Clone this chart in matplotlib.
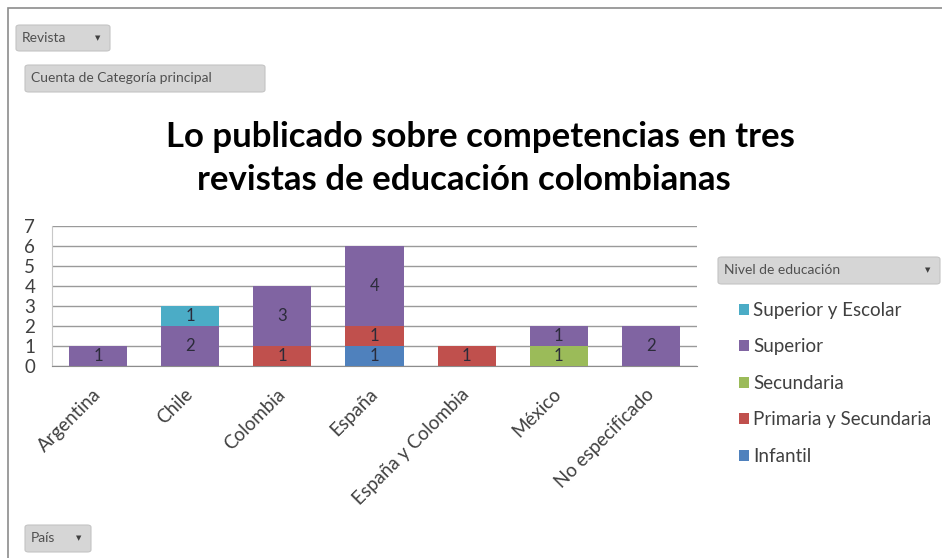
import matplotlib
matplotlib.use("Agg")
import matplotlib.pyplot as plt
from matplotlib.patches import FancyBboxPatch, Rectangle
import matplotlib.transforms as mtransforms
import numpy as np

plt.rcParams['font.family'] = ['Lato', 'DejaVu Sans']

categories = ["Argentina", "Chile", "Colombia", "España", "España y Colombia", "México", "No especificado"]
series_names = ["Infantil", "Primaria y Secundaria", "Secundaria", "Superior", "Superior y Escolar"]
infantil = [0, 0, 0, 1, 0, 0, 0]
primaria_secundaria = [0, 0, 1, 1, 1, 0, 0]
secundaria = [0, 0, 0, 0, 0, 1, 0]
superior = [1, 2, 3, 4, 0, 1, 2]
superior_escolar = [0, 1, 0, 0, 0, 0, 0]
series_values = [infantil, primaria_secundaria, secundaria, superior, superior_escolar]
colors = ["#4F81BD", "#C0504D", "#9BBB59", "#8064A2", "#4BACC6"]
yticks = list(range(0, 8))

W, H = 942, 558
fig = plt.figure(figsize=(W / 100, H / 100), dpi=100)

def fx(x):
    return x / W

def fy(y):
    return 1 - y / H

# outer border
fig.patches.append(Rectangle((fx(8), fy(560)), fx(940), fy(8) - fy(560), transform=fig.transFigure,
                             fill=False, edgecolor="#8c8c8c", linewidth=1.2))

def button(x0, y0, x1, y1, label, arrow=False, fs=10):
    p = FancyBboxPatch((fx(x0), fy(y1)), fx(x1) - fx(x0), fy(y0) - fy(y1),
                       boxstyle="round,pad=0,rounding_size=0.004", transform=fig.transFigure,
                       facecolor="#d6d6d6", edgecolor="#c4c4c4", linewidth=0.8)
    fig.patches.append(p)
    fig.text(fx(x0 + 6), fy((y0 + y1) / 2), label, fontsize=fs, color="#505050",
             ha="left", va="center")
    if arrow:
        fig.text(fx(x1 - 12), fy((y0 + y1) / 2), "▼", fontsize=5, color="#404040",
                 ha="center", va="center", family="DejaVu Sans")

button(16, 25, 110, 51, "Revista", arrow=True)
button(25, 65, 265, 92, "Cuenta de Categoría principal")
button(25, 525, 91, 552, "País", arrow=True)
button(718, 257, 940, 284, "Nivel de educación", arrow=True)

# title
fig.text(fx(480), fy(137), "Lo publicado sobre competencias en tres", fontsize=25,
         fontweight="bold", ha="center", va="center", color="#000000")
fig.text(fx(464), fy(180), "revistas de educación colombianas", fontsize=25,
         fontweight="bold", ha="center", va="center", color="#000000")

# plot axes
ax = fig.add_axes([fx(52), fy(366), fx(697) - fx(52), fy(226) - fy(366)])
x = np.arange(len(categories))
bottom = np.zeros(len(categories))
handles = []
for name, vals, c in zip(series_names, series_values, colors):
    vals = np.array(vals, dtype=float)
    b = ax.bar(x, vals, bottom=bottom, width=0.63, color=c, label=name, zorder=3)
    handles.append(b)
    for xi, v, bt in zip(x, vals, bottom):
        if v > 0:
            ax.text(xi, bt + v / 2, f"{int(v)}", ha="center", va="center", fontsize=12,
                    color="#2b2b3a", zorder=4)
    bottom += vals

ax.set_xlim(-0.5, len(categories) - 0.5)
ax.set_ylim(0, 7)
ax.set_yticks(yticks)
ax.set_yticklabels([str(t) for t in yticks], fontsize=13.5, color="#404040")
ax.yaxis.grid(True, color="#9a9a9a", linewidth=1.0, zorder=0)
ax.set_axisbelow(True)
for s in ["top", "right"]:
    ax.spines[s].set_visible(False)
ax.spines["left"].set_color("#c8c8c8")
ax.spines["bottom"].set_color("#8c8c8c")
ax.tick_params(axis="y", length=0, pad=16)
ax.tick_params(axis="x", length=0, pad=14)
ax.set_xticks(x)
ax.set_xticklabels(categories, rotation=45, ha="right", fontsize=13.5, color="#404040")
offset = mtransforms.ScaledTranslation(6 / 100, 0, fig.dpi_scale_trans)
for lab in ax.get_xticklabels():
    lab.set_transform(lab.get_transform() + offset)
for lab in ax.get_yticklabels():
    lab.set_horizontalalignment("center")

leg = fig.legend(handles=handles[::-1], labels=series_names[::-1], loc="upper left",
                 bbox_to_anchor=(fx(722), fy(285)), frameon=False, fontsize=13.5,
                 handlelength=0.55, handleheight=0.55, handletextpad=0.2,
                 labelspacing=1.04, labelcolor="#404040")

fig.savefig("out.png", dpi=100)
